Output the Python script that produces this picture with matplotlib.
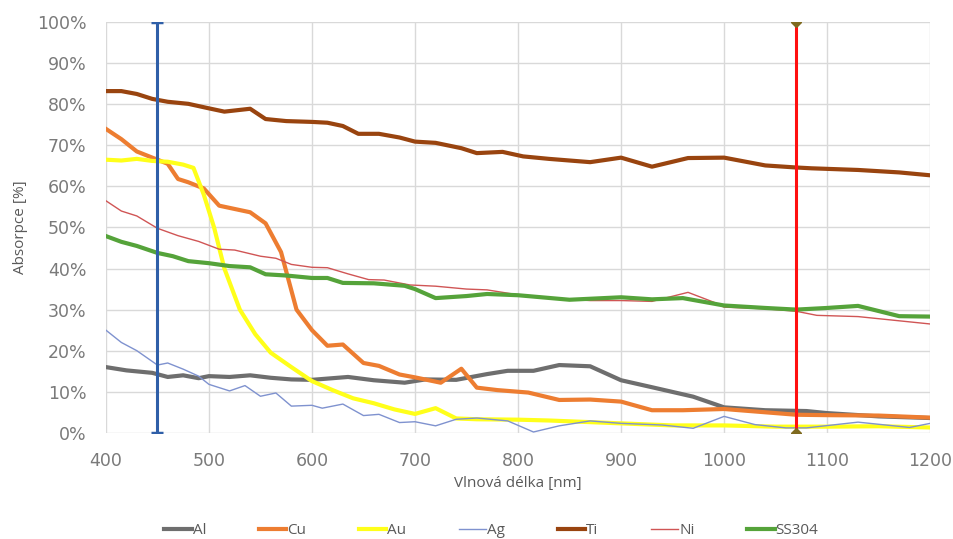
import matplotlib
matplotlib.use("Agg")
import matplotlib.pyplot as plt
from matplotlib.ticker import FuncFormatter, MultipleLocator

al_x = [400, 420, 445, 460, 475, 490, 500, 520, 540, 560, 580, 600, 620, 635, 660, 690, 710, 740, 770, 790, 815, 840, 870, 900, 930, 970, 1000, 1040, 1080, 1100, 1150, 1200]
al_y = [16, 15.2, 14.6, 13.6, 14, 13.3, 13.8, 13.6, 14, 13.4, 13, 12.9, 13.3, 13.6, 12.8, 12.2, 13, 12.9, 14.3, 15.1, 15.1, 16.5, 16.2, 12.8, 11.1, 8.8, 6.2, 5.5, 5.3, 4.8, 4.0, 3.6]

cu_x = [400, 415, 430, 445, 460, 470, 480, 495, 510, 525, 540, 555, 570, 585, 600, 615, 630, 650, 665, 685, 700, 725, 745, 760, 780, 810, 840, 870, 900, 930, 960, 1000, 1040, 1070, 1100, 1150, 1200]
cu_y = [74, 71.5, 68.5, 67, 65.5, 61.8, 61, 59.5, 55.3, 54.5, 53.7, 51, 44, 30, 25, 21.2, 21.5, 17, 16.3, 14.2, 13.5, 12.2, 15.6, 11, 10.4, 9.8, 8.0, 8.1, 7.6, 5.5, 5.5, 5.8, 5.0, 4.4, 4.3, 4.2, 3.7]

au_x = [400, 415, 430, 445, 460, 475, 485, 495, 505, 515, 530, 545, 560, 580, 600, 620, 640, 660, 680, 700, 720, 740, 760, 800, 830, 870, 900, 950, 1000, 1050, 1100, 1150, 1200]
au_y = [66.5, 66.3, 66.7, 66.2, 66.0, 65.3, 64.5, 58, 50, 40, 30, 24, 19.5, 16, 12.6, 10.4, 8.4, 7.2, 5.7, 4.6, 6.0, 3.5, 3.3, 3.2, 3.0, 2.6, 2.3, 1.8, 1.8, 1.5, 1.5, 1.6, 1.3]

ag_x = [400, 415, 430, 450, 460, 475, 490, 500, 520, 535, 550, 565, 580, 600, 610, 630, 650, 665, 685, 700, 720, 740, 760, 790, 815, 840, 870, 900, 940, 970, 1000, 1030, 1060, 1080, 1130, 1180, 1200]
ag_y = [25, 22, 20, 16.5, 17, 15.5, 13.8, 11.8, 10.2, 11.5, 8.9, 9.7, 6.5, 6.7, 6.0, 7.0, 4.2, 4.5, 2.5, 2.7, 1.7, 3.3, 3.6, 2.9, 0.2, 1.7, 2.9, 2.3, 1.9, 1.1, 4.0, 2.0, 1.2, 1.2, 2.6, 1.3, 2.3]

ti_x = [400, 415, 430, 445, 460, 480, 500, 515, 540, 555, 575, 600, 615, 630, 645, 665, 685, 700, 720, 745, 760, 785, 805, 830, 870, 900, 930, 965, 1000, 1040, 1070, 1085, 1130, 1170, 1200]
ti_y = [83.2, 83.2, 82.5, 81.3, 80.6, 80.1, 79, 78.2, 78.9, 76.4, 75.9, 75.7, 75.5, 74.7, 72.8, 72.8, 71.9, 70.9, 70.6, 69.3, 68.1, 68.4, 67.3, 66.7, 65.9, 67.0, 64.8, 66.9, 67.0, 65.1, 64.6, 64.4, 64.0, 63.4, 62.7]

ni_x = [400, 415, 430, 450, 470, 490, 510, 525, 550, 565, 580, 600, 615, 635, 655, 670, 695, 720, 750, 770, 800, 840, 870, 900, 930, 965, 990, 1000, 1040, 1070, 1090, 1130, 1200]
ni_y = [56.5, 54, 52.8, 49.8, 48, 46.6, 44.7, 44.5, 43, 42.5, 41, 40.3, 40.2, 38.7, 37.3, 37.2, 36, 35.7, 35.0, 34.8, 33.6, 32.6, 32.2, 32.2, 32.0, 34.2, 31.8, 30.6, 30.2, 29.6, 28.6, 28.3, 26.5]

ss_x = [400, 415, 430, 450, 465, 480, 500, 520, 540, 555, 575, 600, 615, 630, 660, 690, 700, 720, 750, 770, 800, 850, 900, 930, 960, 1000, 1040, 1070, 1100, 1130, 1170, 1200]
ss_y = [47.9, 46.5, 45.5, 43.8, 43, 41.8, 41.3, 40.6, 40.3, 38.6, 38.3, 37.7, 37.7, 36.5, 36.4, 35.8, 35, 32.8, 33.3, 33.8, 33.5, 32.4, 33.0, 32.5, 32.8, 31.0, 30.4, 30.0, 30.4, 30.9, 28.4, 28.3]

blue_line_x = [450, 450]
red_line_x = [1070, 1070]
marker_line_y = [0, 100]

fig = plt.figure(figsize=(9.54, 5.39), dpi=100)
ax = fig.add_axes([0.111, 0.197, 0.864, 0.762])

txt = "#7A7A7A"
ax.plot(blue_line_x, marker_line_y, color="#2F5FA8", lw=2.2,
        marker="_", markersize=8, markeredgewidth=2.5, zorder=5)
ax.plot(red_line_x, marker_line_y, color="#FF1010", lw=2.2,
        marker="D", markersize=5, markerfacecolor="#7F6A1F", markeredgecolor="#7F6A1F", zorder=5)

series = [
    ("Al", al_x, al_y, "#6E6E6E", 3.0),
    ("Cu", cu_x, cu_y, "#ED7D31", 3.0),
    ("Au", au_x, au_y, "#FFFF1A", 3.0),
    ("Ag", ag_x, ag_y, "#7F92CF", 1.0),
    ("Ti", ti_x, ti_y, "#99440F", 3.0),
    ("Ni", ni_x, ni_y, "#D05555", 1.0),
    ("SS304", ss_x, ss_y, "#55A33A", 3.0),
]
handles = []
for name, xs, ys, c, lw in series:
    h, = ax.plot(xs, ys, color=c, lw=lw, label=name, solid_joinstyle="round", zorder=3)
    handles.append(h)

ax.set_xlim(400, 1200)
ax.set_ylim(0, 100)
ax.xaxis.set_major_locator(MultipleLocator(100))
ax.yaxis.set_major_locator(MultipleLocator(10))
ax.yaxis.set_major_formatter(FuncFormatter(lambda v, p: f"{int(round(v))}%"))
ax.grid(True, color="#D9D9D9", lw=1)
ax.set_axisbelow(True)
for s in ax.spines.values():
    s.set_visible(False)
ax.tick_params(length=0, labelsize=12.5, colors=txt)
ax.tick_params(axis="x", pad=14)
ax.tick_params(axis="y", pad=14)
ax.set_xlabel("Vlnová délka [nm]", fontsize=11, color="#595959", family="Open Sans")
ax.set_ylabel("Absorpce [%]", fontsize=11, color="#595959", family="Open Sans")
ax.xaxis.set_label_coords(0.5, -0.105)
ax.yaxis.set_label_coords(-0.095, 0.5)

leg = fig.legend(handles=handles, loc="center", bbox_to_anchor=(0.515, 0.016), ncol=7, frameon=False,
                 prop={"family": "Open Sans", "size": 11}, handlelength=1.8, handletextpad=0.05,
                 columnspacing=3.45)
for t in leg.get_texts():
    t.set_color("#595959")

fig.savefig("out.png", dpi=100)
